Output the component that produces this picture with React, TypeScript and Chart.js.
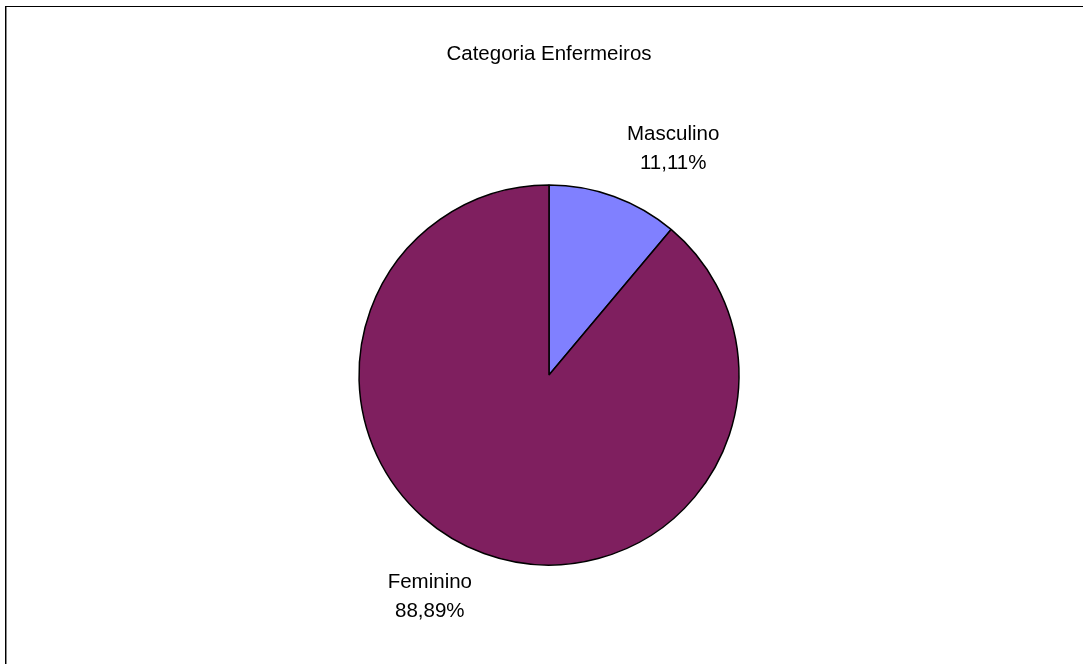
import React, { useEffect, useRef } from "react";
import { Chart, registerables } from "chart.js";

Chart.register(...registerables);

const categories: string[] = ["Masculino", "Feminino"];
const values: number[] = [11.11, 88.89];
const colors: string[] = ["#8080FF", "#7F1F5F"];
const titleText = "Categoria Enfermeiros";

const FONT_FAMILY = "'Liberation Sans', Arial, sans-serif";
const FONT_SIZE = 20.5;

const outsideLabels = {
  id: "outsideLabels",
  afterDatasetsDraw(chart: any) {
    const ctx = chart.ctx;
    const meta = chart.getDatasetMeta(0);
    ctx.save();
    ctx.font = `${FONT_SIZE}px ${FONT_FAMILY}`;
    ctx.fillStyle = "#000";
    ctx.textAlign = "center";
    ctx.textBaseline = "middle";
    meta.data.forEach((arc: any, i: number) => {
      const mid = (arc.startAngle + arc.endAngle) / 2;
      const shift = (8.5 * Math.PI) / 180;
      const dist = arc.outerRadius + 65;
      const a = mid + shift;
      const x = arc.x + Math.cos(a) * dist + 2.5;
      const y = arc.y + Math.sin(a) * dist - 2.25;
      const pct = values[i].toFixed(2).replace(".", ",") + "%";
      ctx.fillText(categories[i], x, y - 14.5);
      ctx.fillText(pct, x, y + 14.5);
    });
    ctx.restore();
  },
};

export default function App() {
  const ref = useRef<HTMLCanvasElement | null>(null);
  useEffect(() => {
    if (!ref.current) return;
    const chart = new Chart(ref.current, {
      type: "pie",
      data: {
        labels: categories,
        datasets: [
          {
            data: values,
            backgroundColor: colors,
            borderColor: "#000000",
            borderWidth: 1.5,
          },
        ],
      },
      options: {
        responsive: false,
        animation: false,
        radius: 190,
        layout: { padding: { left: 15, right: 0, top: 0, bottom: 14 } },
        plugins: {
          legend: { display: false },
          tooltip: { enabled: false },
          title: {
            display: true,
            text: titleText,
            color: "#000",
            font: { family: FONT_FAMILY, size: FONT_SIZE, weight: "normal" as any, lineHeight: 1.2 },
            padding: { top: 41.7, bottom: 33.7 },
          },
        },
      } as any,
      plugins: [outsideLabels],
    });
    return () => chart.destroy();
  }, []);

  return (
    <div style={{ position: "absolute", left: 0, top: 0, width: 1083, height: 664, background: "#fff", overflow: "hidden" }}>
      <div
        style={{
          position: "absolute",
          left: 5,
          top: 6,
          width: 1100,
          height: 700,
          borderTop: "1px solid #000",
          borderLeft: "1px solid #000",
          boxShadow: "inset 1px 0 0 #888",
        }}
      />
      <canvas ref={ref} width={1083} height={664} style={{ position: "absolute", left: 0, top: 0, width: 1083, height: 664 }} />
    </div>
  );
}
